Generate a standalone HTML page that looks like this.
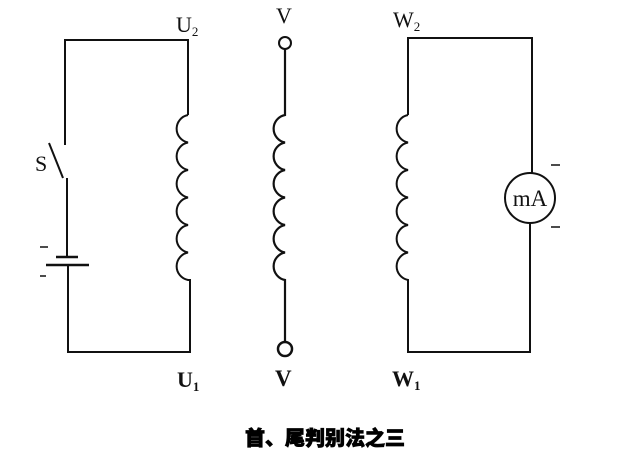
<!DOCTYPE html>
<html><head><meta charset="utf-8"><style>
html,body{margin:0;padding:0;background:#fff;}
svg{display:block;}
</style></head><body>
<svg width="640" height="465" viewBox="0 0 640 465" xmlns="http://www.w3.org/2000/svg">
<g fill="none" stroke="#111" stroke-width="2">
<polyline points="65,145 65,40 188,40 188,115"/>
<path d="M188,115 a14 14 0 0 0 0 27.5 a14 14 0 0 0 0 27.5 a14 14 0 0 0 0 27.5 a14 14 0 0 0 0 27.5 a14 14 0 0 0 0 27.5 a14 14 0 0 0 0 27.5 L190,280 L190,352 L68,352 L68,268"/>
<line x1="49" y1="143" x2="63" y2="178"/>
<line x1="67" y1="178" x2="67" y2="257"/>
<line x1="56" y1="257" x2="78" y2="257" stroke-width="2.5"/>
<line x1="46" y1="265" x2="89" y2="265" stroke-width="2.5"/>
<line x1="68" y1="265" x2="68" y2="270"/>
<line x1="40" y1="247" x2="48" y2="247" stroke-width="1.5"/>
<line x1="40" y1="276" x2="46" y2="276" stroke-width="1.5"/>
<circle cx="285" cy="43" r="6"/>
<path d="M285,49 L285,115 a14 14 0 0 0 0 27.5 a14 14 0 0 0 0 27.5 a14 14 0 0 0 0 27.5 a14 14 0 0 0 0 27.5 a14 14 0 0 0 0 27.5 a14 14 0 0 0 0 27.5 L285,342" stroke-width="2.2"/>
<circle cx="285" cy="349" r="7" stroke-width="2.5"/>
<path d="M408,115 L408,38 L532,38 L532,173"/>
<path d="M408,115 a14 14 0 0 0 0 27.5 a14 14 0 0 0 0 27.5 a14 14 0 0 0 0 27.5 a14 14 0 0 0 0 27.5 a14 14 0 0 0 0 27.5 a14 14 0 0 0 0 27.5 L408,352 L530,352 L530,223"/>
<circle cx="530" cy="198" r="25"/>
<line x1="551" y1="165" x2="560" y2="165" stroke-width="1.5"/>
<line x1="551" y1="227" x2="560" y2="227" stroke-width="1.5"/>
</g>
<g font-family="Liberation Serif, serif" fill="#111">
<text x="176" y="32" font-size="22">U<tspan font-size="13" dy="4">2</tspan></text>
<text x="177" y="387" font-size="22" font-weight="bold">U<tspan font-size="13" dy="4">1</tspan></text>
<text x="35" y="171" font-size="22">S</text>
<text x="276" y="23" font-size="22">V</text>
<text x="275" y="386" font-size="23" font-weight="bold">V</text>
<text x="393" y="27" font-size="22">W<tspan font-size="13" dy="4">2</tspan></text>
<text x="392" y="386" font-size="22" font-weight="bold">W<tspan font-size="13" dy="4">1</tspan></text>
<text x="530" y="206" font-size="23" text-anchor="middle">mA</text>
</g>
<text x="245" y="445" font-family="'Liberation Sans','Noto Sans CJK SC',sans-serif" font-size="20" font-weight="900" fill="#000" stroke="#000" stroke-width="0.8">首、尾判别法之三</text>
</svg>
</body></html>
